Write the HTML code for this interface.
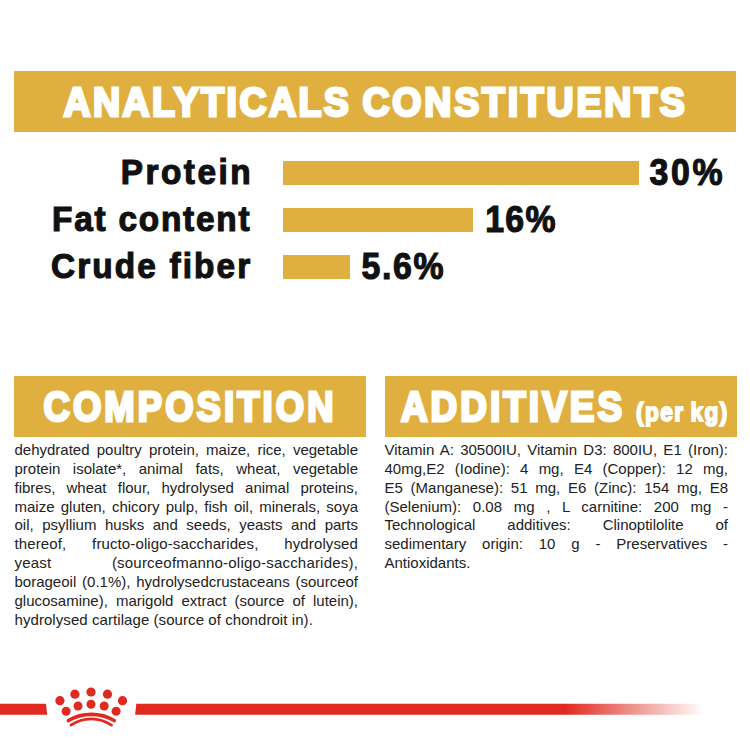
<!DOCTYPE html>
<html lang="en">
<head>
<meta charset="utf-8">
<title>Analyticals constituents</title>
<style>
html,body{margin:0;padding:0;background:#fff;}
body{width:750px;height:750px;position:relative;overflow:hidden;font-family:"Liberation Sans",sans-serif;}
.box{position:absolute;background:#dfaf40;}
svg{position:absolute;left:0;top:0;}
svg text{font-family:"Liberation Sans",sans-serif;font-weight:bold;}
.col{position:absolute;top:0;width:343.5px;font-size:15px;line-height:17px;color:#222;}
.ln{position:absolute;left:0;width:343.5px;height:17px;text-align:justify;text-align-last:justify;}
.ln.last{text-align:left;text-align-last:left;}
</style>
</head>
<body>
<div class="box" style="left:14px;top:71px;width:722px;height:61px"></div>
<div class="box" style="left:283px;top:161px;width:356px;height:24px"></div>
<div class="box" style="left:283px;top:208px;width:190px;height:24px"></div>
<div class="box" style="left:283px;top:254.5px;width:66.5px;height:24px"></div>
<div class="box" style="left:14px;top:376px;width:351.5px;height:60.5px"></div>
<div class="box" style="left:384.5px;top:376px;width:352px;height:60.5px"></div>

<svg width="750" height="750" viewBox="0 0 750 750">
  <defs>
    <linearGradient id="fade" gradientUnits="userSpaceOnUse" x1="565" y1="0" x2="703" y2="0">
      <stop offset="0" stop-color="#e02a20" stop-opacity="1"/>
      <stop offset="0.5" stop-color="#e02a20" stop-opacity="0.5"/>
      <stop offset="0.93" stop-color="#e02a20" stop-opacity="0.08"/>
      <stop offset="1" stop-color="#e02a20" stop-opacity="0"/>
    </linearGradient>
  </defs>
  <!-- headings -->
  <g fill="#fff" stroke="#fff" stroke-linejoin="miter" stroke-miterlimit="2.5">
    <text transform="translate(63.40 115.95) scale(0.92 1)" font-size="40.8" stroke-width="2.9" textLength="310.22" lengthAdjust="spacing">ANALYTICALS</text>
    <text transform="translate(362.40 115.95) scale(0.92 1)" font-size="40.8" stroke-width="2.9" textLength="350.54" lengthAdjust="spacing">CONSTITUENTS</text>
    <text transform="translate(43.50 421.40) scale(0.85 1)" font-size="42.9" stroke-width="3.0" textLength="341.18" lengthAdjust="spacing">COMPOSITION</text>
    <text transform="translate(400.90 421.40) scale(0.86 1)" font-size="42.9" stroke-width="3.0" textLength="257.21" lengthAdjust="spacing">ADDITIVES</text>
    <text transform="translate(636.10 421.00) scale(0.86 1)" font-size="26.4" stroke-width="1.8" word-spacing="-2" textLength="106.05" lengthAdjust="spacing">(per kg)</text>
  </g>
  <!-- labels -->
  <g fill="#111" stroke="#111" stroke-linejoin="miter" stroke-miterlimit="2.5">
    <text transform="translate(120.80 184.40) scale(0.93 1)" font-size="35.9" stroke-width="1.2" textLength="139.57" lengthAdjust="spacing">Protein</text>
    <text transform="translate(52.00 231.20) scale(0.93 1)" font-size="35.9" stroke-width="1.2" textLength="212.47" lengthAdjust="spacing">Fat content</text>
    <text transform="translate(51.00 277.60) scale(0.93 1)" font-size="35.9" stroke-width="1.2" textLength="214.30" lengthAdjust="spacing">Crude fiber</text>
    <text transform="translate(649.40 185.30) scale(0.9 1)" font-size="37.6" stroke-width="1.2" textLength="81.33" lengthAdjust="spacing">30%</text>
    <text transform="translate(485.20 231.80) scale(0.9 1)" font-size="37.6" stroke-width="1.2" textLength="78.22" lengthAdjust="spacing">16%</text>
    <text transform="translate(361.40 278.50) scale(0.9 1)" font-size="37.6" stroke-width="1.2" textLength="91.33" lengthAdjust="spacing">5.6%</text>
  </g>
  <!-- red line + crown -->
  <polygon points="0,703.8 46,703.8 47.2,714.7 0,714.7" fill="#e02a20"/>
  <polygon points="136.3,703.8 750,703.8 750,714.7 135.1,714.7" fill="url(#fade)"/>
  <g fill="#e02a20">
    <circle cx="59.9" cy="700.7" r="4.6"/>
    <circle cx="74.9" cy="694.2" r="4.6"/>
    <circle cx="91" cy="692" r="4.6"/>
    <circle cx="107.5" cy="694.2" r="4.6"/>
    <circle cx="122.5" cy="700.7" r="4.6"/>
    <circle cx="66.1" cy="711.2" r="4.5"/>
    <circle cx="78" cy="706" r="4.5"/>
    <circle cx="91" cy="704.3" r="4.5"/>
    <circle cx="104.2" cy="706" r="4.5"/>
    <circle cx="116.1" cy="711.2" r="4.5"/>
  </g>
  <g fill="none" stroke="#e02a20" stroke-linecap="round">
    <path d="M68.4 720.5 A45.4 45.4 0 0 1 114.2 720.5" stroke-width="3.7"/>
    <path d="M70.9 725.2 A35.4 35.4 0 0 1 111.5 725.2" stroke-width="2.7"/>
  </g>
</svg>

<div class="col c1" style="left:14.5px">
<div class="ln" style="top:441px">dehydrated poultry protein, maize, rice, vegetable</div>
<div class="ln" style="top:460px">protein isolate*, animal fats, wheat, vegetable</div>
<div class="ln" style="top:479px">fibres, wheat flour, hydrolysed animal proteins,</div>
<div class="ln" style="top:498px">maize gluten, chicory pulp, fish oil, minerals, soya</div>
<div class="ln" style="top:516px">oil, psyllium husks and seeds, yeasts and parts</div>
<div class="ln" style="top:535px;letter-spacing:0.12px">thereof, fructo-oligo-saccharides, hydrolysed</div>
<div class="ln" style="top:554px;letter-spacing:0.2px">yeast (sourceofmanno-oligo-saccharides),</div>
<div class="ln" style="top:573px">borageoil (0.1%), hydrolysedcrustaceans (sourceof</div>
<div class="ln" style="top:592px">glucosamine), marigold extract (source of lutein),</div>
<div class="ln last" style="top:611px;letter-spacing:0.07px">hydrolysed cartilage (source of chondroit in).</div>
</div>
<div class="col c2" style="left:384.5px">
<div class="ln" style="top:441px">Vitamin A: 30500IU, Vitamin D3: 800IU, E1 (Iron):</div>
<div class="ln" style="top:460px">40mg,E2 (Iodine): 4 mg, E4 (Copper): 12 mg,</div>
<div class="ln" style="top:479px">E5 (Manganese): 51 mg, E6 (Zinc): 154 mg, E8</div>
<div class="ln" style="top:498px">(Selenium): 0.08 mg , L carnitine: 200 mg -</div>
<div class="ln" style="top:516px">Technological additives: Clinoptilolite of</div>
<div class="ln" style="top:535px">sedimentary origin: 10 g - Preservatives -</div>
<div class="ln last" style="top:554px">Antioxidants.</div>
</div>
</body>
</html>
